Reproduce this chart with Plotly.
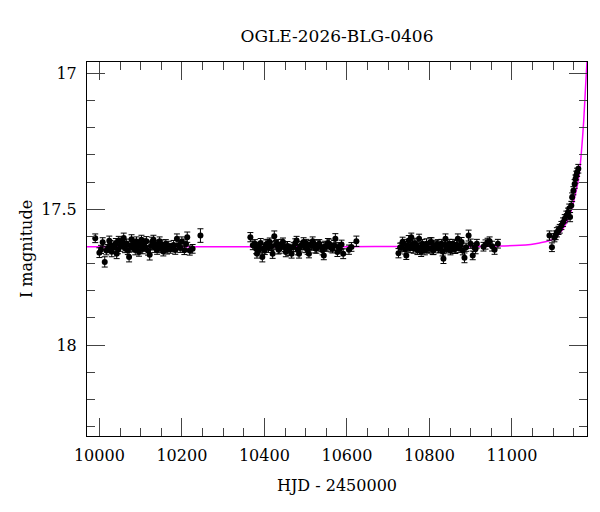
import plotly.graph_objects as go

# OGLE light curve, I band, HJD - 2450000
# season 1
s1_t = [9990, 10000, 10004, 10008, 10013, 10017, 10021, 10024, 10026, 10030,
        10033, 10037, 10040, 10042, 10045, 10047, 10051, 10054, 10057, 10059,
        10062, 10066, 10069, 10072, 10075, 10078, 10081, 10084, 10087, 10090,
        10093, 10096, 10099, 10102, 10105, 10108, 10111, 10114, 10118, 10122,
        10125, 10128, 10131, 10134, 10137, 10140, 10143, 10146, 10149, 10152,
        10155, 10158, 10161, 10164, 10168, 10172, 10176, 10180, 10184, 10188,
        10192, 10196, 10200, 10206, 10210, 10213, 10219, 10226, 10245]
s1_m = [17.607, 17.660, 17.648, 17.622, 17.694, 17.652, 17.645, 17.616, 17.631, 17.657,
        17.640, 17.633, 17.625, 17.664, 17.648, 17.615, 17.638, 17.629, 17.621, 17.606,
        17.644, 17.627, 17.652, 17.676, 17.634, 17.611, 17.642, 17.626, 17.650, 17.619,
        17.637, 17.658, 17.631, 17.612, 17.646, 17.624, 17.639, 17.618, 17.653, 17.668,
        17.635, 17.620, 17.612, 17.641, 17.629, 17.650, 17.634, 17.618, 17.645, 17.631,
        17.656, 17.640, 17.627, 17.649, 17.636, 17.646, 17.641, 17.632, 17.650, 17.609,
        17.633, 17.643, 17.619, 17.651, 17.628, 17.603, 17.652, 17.646, 17.597]
s1_e = [0.016, 0.018, 0.015, 0.017, 0.019, 0.016, 0.015, 0.017, 0.016, 0.018,
        0.015, 0.016, 0.017, 0.018, 0.016, 0.015, 0.017, 0.016, 0.015, 0.018,
        0.016, 0.017, 0.015, 0.018, 0.016, 0.017, 0.015, 0.016, 0.018, 0.017,
        0.016, 0.015, 0.017, 0.016, 0.018, 0.015, 0.016, 0.017, 0.016, 0.019,
        0.015, 0.017, 0.016, 0.018, 0.015, 0.016, 0.017, 0.016, 0.015, 0.018,
        0.016, 0.017, 0.015, 0.016, 0.018, 0.016, 0.015, 0.017, 0.016, 0.018,
        0.015, 0.016, 0.017, 0.016, 0.018, 0.019, 0.017, 0.016, 0.025]

# season 2
s2_t = [10366, 10372, 10377, 10380, 10382, 10385, 10387, 10391, 10395, 10398,
        10401, 10404, 10407, 10410, 10413, 10417, 10420, 10424, 10428, 10431,
        10434, 10437, 10441, 10445, 10449, 10452, 10456, 10460, 10463, 10466,
        10471, 10475, 10478, 10481, 10484, 10487, 10490, 10495, 10499, 10502,
        10505, 10508, 10511, 10514, 10517, 10520, 10523, 10526, 10530, 10533,
        10538, 10541, 10544, 10547, 10550, 10554, 10557, 10561, 10565, 10569,
        10572, 10577, 10580, 10583, 10587, 10591, 10605, 10611, 10623]
s2_m = [17.603, 17.633, 17.627, 17.646, 17.664, 17.639, 17.650, 17.624, 17.676, 17.645,
        17.652, 17.630, 17.627, 17.641, 17.621, 17.636, 17.664, 17.600, 17.631, 17.627,
        17.648, 17.646, 17.629, 17.621, 17.640, 17.658, 17.635, 17.652, 17.644, 17.664,
        17.639, 17.625, 17.615, 17.650, 17.664, 17.637, 17.633, 17.621, 17.642, 17.627,
        17.649, 17.664, 17.631, 17.633, 17.618, 17.627, 17.644, 17.646, 17.632, 17.627,
        17.639, 17.651, 17.670, 17.636, 17.639, 17.624, 17.627, 17.641, 17.646, 17.633,
        17.609, 17.658, 17.640, 17.646, 17.630, 17.664, 17.649, 17.639, 17.618]
s2_e = [0.017, 0.016, 0.015, 0.018, 0.016, 0.017, 0.015, 0.016, 0.018, 0.016,
        0.015, 0.017, 0.016, 0.018, 0.015, 0.016, 0.017, 0.020, 0.016, 0.015,
        0.017, 0.016, 0.018, 0.015, 0.016, 0.017, 0.016, 0.018, 0.015, 0.016,
        0.017, 0.016, 0.015, 0.018, 0.016, 0.017, 0.015, 0.016, 0.018, 0.016,
        0.017, 0.015, 0.016, 0.018, 0.016, 0.015, 0.017, 0.016, 0.018, 0.015,
        0.016, 0.017, 0.016, 0.018, 0.015, 0.016, 0.017, 0.016, 0.015, 0.018,
        0.019, 0.016, 0.017, 0.015, 0.016, 0.018, 0.017, 0.016, 0.019]

# season 3
s3_t = [10725, 10729, 10732, 10735, 10738, 10741, 10744, 10747, 10750, 10753,
        10756, 10759, 10762, 10765, 10768, 10771, 10775, 10778, 10780, 10783,
        10786, 10789, 10793, 10796, 10799, 10802, 10805, 10808, 10810, 10813,
        10817, 10820, 10822, 10826, 10829, 10832, 10834, 10837, 10839, 10842,
        10845, 10848, 10851, 10854, 10857, 10860, 10863, 10866, 10869, 10872,
        10875, 10878, 10881, 10885, 10889, 10895, 10900, 10905, 10909, 10912,
        10915, 10931, 10936, 10941, 10946, 10952, 10958, 10966]
s3_m = [17.662, 17.641, 17.639, 17.621, 17.627, 17.648, 17.670, 17.634, 17.615, 17.644,
        17.603, 17.630, 17.646, 17.625, 17.633, 17.651, 17.609, 17.640, 17.658, 17.627,
        17.639, 17.652, 17.627, 17.644, 17.646, 17.622, 17.621, 17.649, 17.652, 17.636,
        17.633, 17.628, 17.646, 17.641, 17.627, 17.655, 17.682, 17.632, 17.609, 17.645,
        17.639, 17.626, 17.652, 17.638, 17.627, 17.648, 17.646, 17.631, 17.609, 17.644,
        17.633, 17.621, 17.652, 17.679, 17.640, 17.597, 17.627, 17.670, 17.641, 17.646,
        17.627, 17.638, 17.630, 17.622, 17.618, 17.636, 17.649, 17.627]
s3_e = [0.017, 0.016, 0.015, 0.018, 0.016, 0.017, 0.015, 0.016, 0.018, 0.016,
        0.015, 0.017, 0.016, 0.018, 0.015, 0.016, 0.017, 0.016, 0.016, 0.015,
        0.017, 0.016, 0.018, 0.015, 0.016, 0.017, 0.016, 0.018, 0.015, 0.016,
        0.017, 0.016, 0.015, 0.018, 0.016, 0.017, 0.018, 0.016, 0.018, 0.016,
        0.017, 0.015, 0.016, 0.018, 0.016, 0.015, 0.017, 0.016, 0.018, 0.015,
        0.016, 0.017, 0.016, 0.018, 0.015, 0.020, 0.017, 0.016, 0.015, 0.018,
        0.016, 0.016, 0.017, 0.015, 0.016, 0.018, 0.017, 0.016]

# season 4, rising part
s4_t = [11091, 11097, 11103, 11106, 11109, 11113, 11116, 11120, 11124, 11128,
        11132, 11136, 11139, 11141, 11144, 11146, 11149, 11152, 11154, 11156,
        11158, 11161]
s4_m = [17.597, 17.640, 17.605, 17.596, 17.585, 17.578, 17.572, 17.560, 17.548, 17.535,
        17.523, 17.511, 17.497, 17.529, 17.486, 17.456, 17.432, 17.407, 17.389, 17.376,
        17.364, 17.351]
s4_e = [0.017, 0.016, 0.015, 0.016, 0.017, 0.015, 0.016, 0.015, 0.016, 0.015,
        0.016, 0.015, 0.016, 0.017, 0.015, 0.016, 0.015, 0.016, 0.015, 0.016,
        0.015, 0.016]

# model curve
model_t = [9970, 10200, 10400, 10600, 10800, 10950, 11020, 11067, 11099, 11115,
           11132, 11144, 11152, 11160, 11165, 11170, 11174, 11178, 11182]
model_m = [17.638, 17.638, 17.638, 17.638, 17.637, 17.636, 17.633, 17.624, 17.611, 17.590,
           17.550, 17.505, 17.456, 17.400, 17.345, 17.260, 17.175, 17.064, 16.955]

t = s1_t + s2_t + s3_t + s4_t
mag = s1_m + s2_m + s3_m + s4_m
err = s1_e + s2_e + s3_e + s4_e

font = "DejaVu Serif"
tickc = "#444444"

fig = go.Figure()
fig.add_trace(go.Scatter(x=model_t, y=model_m, mode="lines",
                         line=dict(color="#ff00ff", width=1.5, shape="spline"),
                         showlegend=False, hoverinfo="skip"))
fig.add_trace(go.Scatter(x=t, y=mag, mode="markers",
                         marker=dict(color="black", size=6),
                         error_y=dict(type="data", array=err, color="black",
                                      thickness=1, width=3),
                         showlegend=False))

axis_common = dict(showgrid=False, zeroline=False, showline=True,
                   linecolor="black", linewidth=1, mirror="allticks",
                   ticks="inside", ticklen=18, tickwidth=1, tickcolor=tickc,
                   automargin=False,
                   tickfont=dict(family=font, size=16, color="black"))

fig.update_xaxes(range=[9970, 11182], tick0=10000, dtick=200, tickformat="d",
                 minor=dict(dtick=50, tick0=10000, ticks="inside", ticklen=8,
                            tickcolor=tickc, showgrid=False),
                 ticklabelstandoff=5,
                 title=dict(text="HJD - 2450000", standoff=15,
                            font=dict(family=font, size=16, color="black")),
                 **axis_common)
fig.update_yaxes(range=[18.335, 16.958], tick0=17, dtick=0.5,
                 minor=dict(dtick=0.1, tick0=17, ticks="inside", ticklen=8,
                            tickcolor=tickc, showgrid=False),
                 ticklabelstandoff=6,
                 title=dict(text="I magnitude", standoff=4,
                            font=dict(family=font, size=16, color="black")),
                 **axis_common)

# page body adds 8px around the figure, so the figure is 8px smaller on each side
fig.update_layout(width=592, height=504,
                  margin=dict(l=79, r=13, t=54, b=76),
                  paper_bgcolor="white", plot_bgcolor="white",
                  title=dict(text="OGLE-2026-BLG-0406", x=0.5, xref="paper",
                             y=1 - 28 / 504, yref="container", yanchor="middle",
                             font=dict(family=font, size=17, color="black")))

fig.write_html("out.html")
